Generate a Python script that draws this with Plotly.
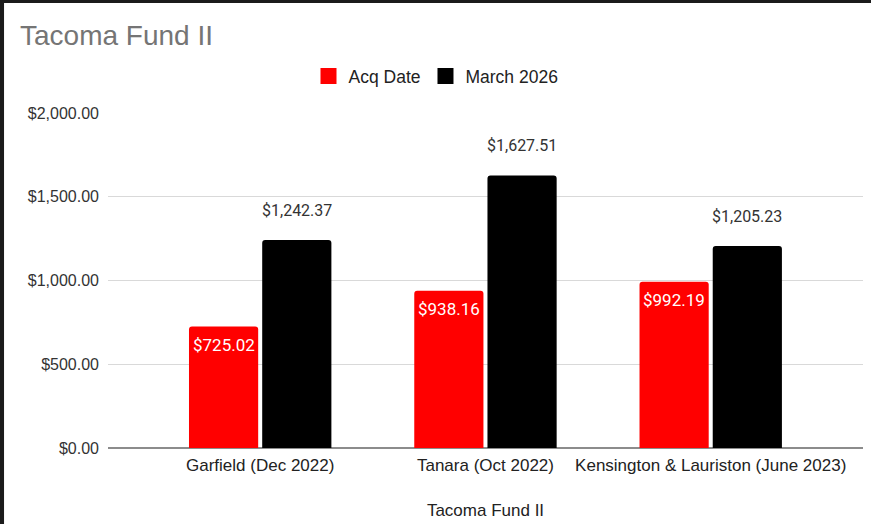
import plotly.graph_objects as go

# Portfolio values per property: acquisition date vs. March 2026
categories = ["Garfield (Dec 2022)", "Tanara (Oct 2022)", "Kensington & Lauriston (June 2023)"]
acq_values = [725.02, 938.16, 992.19]
march_values = [1242.37, 1627.51, 1205.23]
series_names = ["Acq Date", "March 2026"]
y_ticks = [0, 500, 1000, 1500, 2000]
y_tick_labels = ["$0.00", "$500.00", "$1,000.00", "$1,500.00", "$2,000.00"]

RED = "#ff0000"
BLACK = "#000000"
AXIS_FONT = "Liberation Sans, Arial, sans-serif"
LABEL_FONT = "Roboto, sans-serif"

BARGAP = 0.35
slot = (1 - BARGAP) / 2  # width of one bar slot, in category units

fig = go.Figure()
for name, vals, color in [(series_names[0], acq_values, RED), (series_names[1], march_values, BLACK)]:
    fig.add_trace(go.Bar(name=name, x=categories, y=vals, legendgroup=name, showlegend=False,
                         marker=dict(color=color, cornerradius=3, line=dict(width=0))))
    # larger square legend key for the series
    fig.add_trace(go.Scatter(name=name, x=[None], y=[None], mode="markers", legendgroup=name,
                             marker=dict(symbol="square", size=16, color=color), hoverinfo="skip"))

def money(v):
    return "${:,.2f}".format(v)

annotations = []
for i, v in enumerate(acq_values):
    annotations.append(dict(x=i - slot / 2, y=v, xref="x", yref="y", text=money(v),
                            showarrow=False, xanchor="center", yanchor="top", yshift=-6,
                            font=dict(family=LABEL_FONT, size=17, color="#ffffff")))
for i, v in enumerate(march_values):
    annotations.append(dict(x=i + slot / 2, y=v, xref="x", yref="y", text=money(v),
                            showarrow=False, xanchor="center", yanchor="bottom", yshift=18,
                            font=dict(family=LABEL_FONT, size=16, color="#333333")))

# dark window frame along the top and left edges
shapes = [
    dict(type="rect", xref="paper", yref="paper", x0=-0.2, x1=1.2, y0=1.328, y1=1.4,
         fillcolor="#1b1b1b", line=dict(width=0), layer="above"),
    dict(type="rect", xref="paper", yref="paper", x0=-0.2, x1=-0.1377, y0=-0.4, y1=1.4,
         fillcolor="#1b1b1b", line=dict(width=0), layer="above"),
]

fig.update_layout(
    width=871, height=524,
    margin=dict(l=108, r=8, t=113, b=76),
    paper_bgcolor="#ffffff", plot_bgcolor="#ffffff",
    barmode="group", bargap=BARGAP, bargroupgap=0.055,
    title=dict(text="Tacoma Fund II", x=20 / 871, xanchor="left", xref="container",
               y=1 - 35 / 524, yanchor="middle", yref="container",
               font=dict(family=AXIS_FONT, size=28, color="#757575")),
    legend=dict(orientation="h", x=(436 - 108) / 755, xanchor="center",
                y=(448 - 76) / 335, yanchor="middle",
                font=dict(family=AXIS_FONT, size=17.5, color="#222222"),
                itemclick=False, itemdoubleclick=False),
    xaxis=dict(range=[-0.6756, 2.676], showgrid=False, showline=False, ticks="",
               ticklabelstandoff=5,
               tickfont=dict(family=AXIS_FONT, size=17, color="#222222"),
               title=dict(text="Tacoma Fund II", standoff=30,
                          font=dict(family=AXIS_FONT, size=17, color="#222222"))),
    yaxis=dict(range=[0, 2000], tickvals=y_ticks, ticktext=y_tick_labels,
               showgrid=True, gridcolor="#d9d9d9", gridwidth=1,
               zeroline=True, zerolinecolor="#8c8c8c", zerolinewidth=1.5,
               showline=False, ticks="", ticklabelstandoff=8,
               tickfont=dict(family=AXIS_FONT, size=16, color="#333333")),
    annotations=annotations,
    shapes=shapes,
)

fig.write_html("out.html")
